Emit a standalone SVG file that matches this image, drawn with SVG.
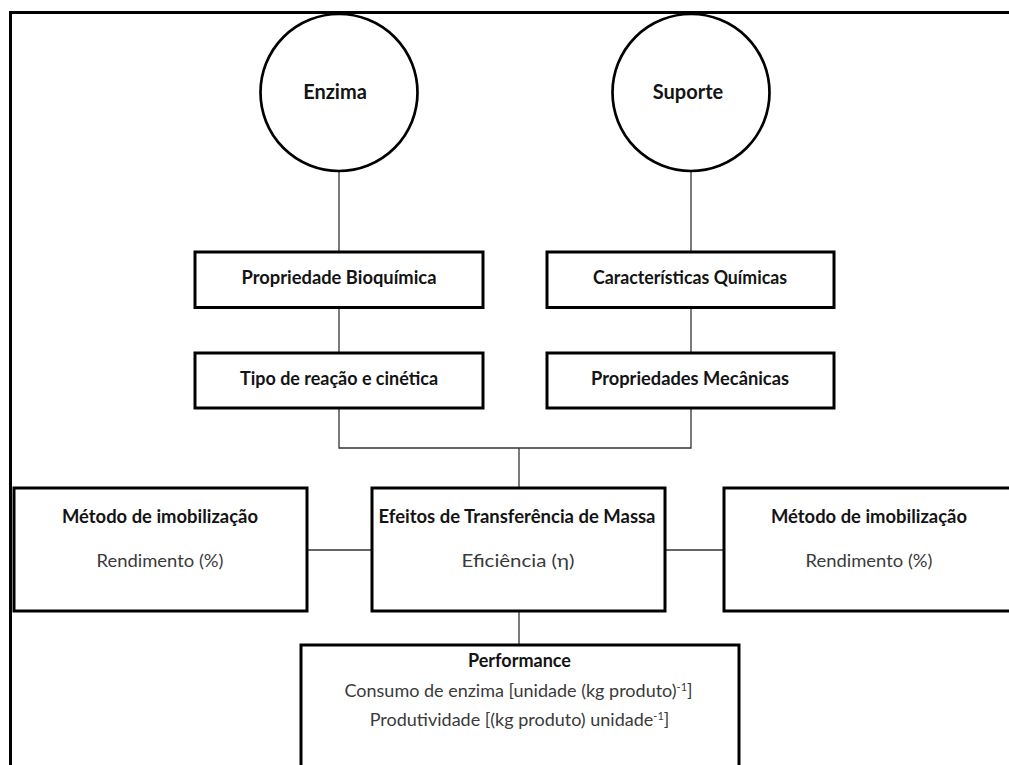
<svg xmlns="http://www.w3.org/2000/svg" width="1009" height="765" viewBox="0 0 1009 765">
<style>
.box{fill:#fff;stroke:#000;stroke-width:3}
.circ{fill:#fff;stroke:#000;stroke-width:2.7}
.conn{fill:none;stroke:#333;stroke-width:1.3}
text{font-family:Lato,"Open Sans","Liberation Sans",sans-serif;font-size:18px;text-anchor:middle}
.b{font-weight:bold;fill:#141414}
.r{fill:#3a3a3a}
.big{font-size:20px;font-weight:bold;fill:#141414}
</style>
<rect width="1009" height="765" fill="#fff"/>
<path d="M10.5 765 V12.5 H1009" fill="none" stroke="#000" stroke-width="3"/>
<g id="connectors">
<path class="conn" d="M339 171 V252"/>
<path class="conn" d="M691 171 V252"/>
<path class="conn" d="M339 307.5 V353"/>
<path class="conn" d="M691 307.5 V353"/>
<path class="conn" d="M339 408 V448 H691 V408"/>
<path class="conn" d="M519 448 V488"/>
<path class="conn" d="M307 550 H372"/>
<path class="conn" d="M665 550 H724"/>
<path class="conn" d="M519 611 V645"/>
</g>
<g id="enzima">
<circle class="circ" cx="339" cy="92.5" r="78.5"/>
<text class="big" x="335" y="99">Enzima</text>
</g>
<g id="suporte">
<circle class="circ" cx="691" cy="92.5" r="78.5"/>
<text class="big" x="688" y="99">Suporte</text>
</g>
<g id="propriedade-bioquimica">
<rect class="box" x="195" y="252" width="288" height="55.5"/>
<text class="b" x="339" y="284" textLength="195" lengthAdjust="spacingAndGlyphs">Propriedade Bioquímica</text>
</g>
<g id="caracteristicas-quimicas">
<rect class="box" x="547" y="252" width="287" height="55.5"/>
<text class="b" x="690" y="284" textLength="194" lengthAdjust="spacingAndGlyphs">Características Químicas</text>
</g>
<g id="tipo-reacao">
<rect class="box" x="195" y="353" width="288" height="55"/>
<text class="b" x="339" y="385" textLength="198" lengthAdjust="spacingAndGlyphs">Tipo de reação e cinética</text>
</g>
<g id="propriedades-mecanicas">
<rect class="box" x="547" y="353" width="287" height="55"/>
<text class="b" x="690" y="385" textLength="198" lengthAdjust="spacingAndGlyphs">Propriedades Mecânicas</text>
</g>
<g id="metodo-esq">
<rect class="box" x="14" y="488" width="293" height="123"/>
<text class="b" x="160" y="523" textLength="196" lengthAdjust="spacingAndGlyphs">Método de imobilização</text>
<text class="r" x="160" y="567" textLength="127" lengthAdjust="spacingAndGlyphs">Rendimento (%)</text>
</g>
<g id="efeitos">
<rect class="box" x="372" y="488" width="293" height="123"/>
<text class="b" x="517" y="523" textLength="277" lengthAdjust="spacingAndGlyphs">Efeitos de Transferência de Massa</text>
<text class="r" x="518" y="567" textLength="113" lengthAdjust="spacingAndGlyphs">Eficiência (η)</text>
</g>
<g id="metodo-dir">
<rect class="box" x="724" y="488" width="300" height="123"/>
<text class="b" x="869" y="523" textLength="196" lengthAdjust="spacingAndGlyphs">Método de imobilização</text>
<text class="r" x="869" y="567" textLength="127" lengthAdjust="spacingAndGlyphs">Rendimento (%)</text>
</g>
<g id="performance">
<rect class="box" x="301" y="645" width="438" height="140"/>
<text class="b" x="519.5" y="667" textLength="103" lengthAdjust="spacingAndGlyphs">Performance</text>
<text class="r" x="518.5" y="697">Consumo de enzima [unidade (kg produto)<tspan dy="-6" font-size="11">-1</tspan><tspan dy="6">]</tspan></text>
<text class="r" x="519.5" y="726">Produtividade [(kg produto) unidade<tspan dy="-6" font-size="11">-1</tspan><tspan dy="6">]</tspan></text>
</g>
</svg>
